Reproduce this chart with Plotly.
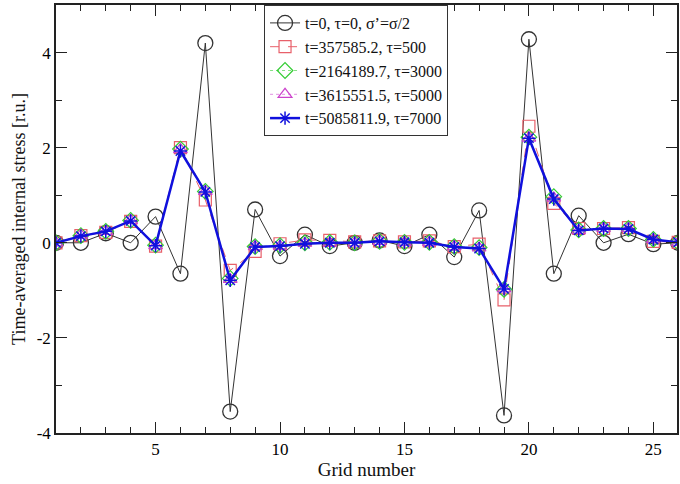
import plotly.graph_objects as go

grid = list(range(1, 27))

names = [
    "t=0, τ=0, σ’=σ/2",
    "t=357585.2, τ=500",
    "t=2164189.7, τ=3000",
    "t=3615551.5, τ=5000",
    "t=5085811.9, τ=7000",
]

stress_t0 = [0, 0, 0.2, 0, 0.55, -0.65, 4.2, -3.55, 0.7, -0.28, 0.17, -0.07, 0,
             0.05, -0.07, 0.17, -0.3, 0.68, -3.63, 4.28, -0.65, 0.57, 0, 0.18, -0.03, 0]
stress_tau500 = [0, 0.15, 0.22, 0.45, -0.07, 2.0, 0.9, -0.58, -0.18, -0.02, 0.06, 0.05, 0.02,
                 0.04, 0.02, 0.04, -0.08, -0.03, -1.2, 2.45, 0.83, 0.3, 0.3, 0.32, 0.03, 0.01]
stress_tau3000 = [0, 0.15, 0.24, 0.47, -0.05, 1.97, 1.08, -0.75, -0.08, -0.06, 0.0, 0.01, 0.0,
                  0.03, 0.01, 0.01, -0.08, -0.1, -0.98, 2.22, 0.97, 0.27, 0.3, 0.3, 0.07, 0.01]
stress_tau5000 = [0, 0.16, 0.24, 0.47, -0.06, 1.96, 1.08, -0.77, -0.08, -0.07, -0.01, 0.0, 0.0,
                  0.03, 0.01, 0.01, -0.08, -0.11, -0.97, 2.2, 0.94, 0.26, 0.3, 0.3, 0.07, 0.01]
stress_tau7000 = [0, 0.14, 0.24, 0.46, -0.06, 1.93, 1.07, -0.79, -0.09, -0.07, -0.02, 0.0, 0.0,
                  0.03, 0.01, 0.0, -0.09, -0.12, -0.97, 2.2, 0.92, 0.26, 0.3, 0.29, 0.07, 0.01]

x_ticks = [5, 10, 15, 20, 25]
x_tick_labels = ["5", "10", "15", "20", "25"]
y_ticks = [-4, -2, 0, 2, 4]
y_tick_labels = ["-4", "-2", "0", "2", "4"]

FONT = "Liberation Serif"

fig = go.Figure()

fig.add_trace(go.Scatter(
    x=grid, y=stress_t0, name=names[0], mode="lines+markers",
    line=dict(color="#333333", width=1),
    marker=dict(symbol="circle-open", size=15, color="#333333", line=dict(width=1.3)),
))
fig.add_trace(go.Scatter(
    x=grid, y=stress_tau500, name=names[1], mode="lines+markers",
    line=dict(color="#e8606a", width=1, dash="dash"),
    marker=dict(symbol="square-open", size=12, color="#e8606a", line=dict(width=1.2)),
))
fig.add_trace(go.Scatter(
    x=grid, y=stress_tau3000, name=names[2], mode="lines+markers",
    line=dict(color="#33cc33", width=0.6, dash="dot"),
    marker=dict(symbol="diamond-open", size=12, color="#33cc33", line=dict(width=1.2)),
))
fig.add_trace(go.Scatter(
    x=grid, y=stress_tau5000, name=names[3], mode="lines+markers",
    line=dict(color="#cc44cc", width=0.6, dash="dot"),
    marker=dict(symbol="triangle-up-open", size=12, color="#cc44cc", line=dict(width=1.2)),
))
fig.add_trace(go.Scatter(
    x=grid, y=stress_tau7000, name=names[4], mode="lines+markers",
    line=dict(color="#1010dd", width=2.5),
    marker=dict(symbol="asterisk-open", size=11, color="#1010dd", line=dict(width=1.5, color="#1010dd")),
))

axis_common = dict(
    showline=True, linecolor="#222222", linewidth=1.5, mirror="ticks",
    ticks="inside", ticklen=11, tickwidth=1.3, tickcolor="#222222",
    showgrid=False, zeroline=False,
    tickfont=dict(family=FONT, size=17, color="#000000"),
    minor=dict(ticks="inside", ticklen=6, tickwidth=1, tickcolor="#222222", dtick=1),
)

fig.update_layout(
    width=680, height=484,
    margin=dict(l=56, r=1, t=5, b=51),
    paper_bgcolor="white", plot_bgcolor="white",
    font=dict(family=FONT, size=16, color="#111111"),
    showlegend=True,
    legend=dict(
        x=0.335, y=1.0, xanchor="left", yanchor="top",
        bordercolor="#333333", borderwidth=1, bgcolor="white",
        font=dict(family=FONT, size=16, color="#111111"),
        tracegroupgap=0, itemsizing="trace",
    ),
    xaxis=dict(
        range=[1, 25.95], tickmode="array", tickvals=x_ticks, ticktext=x_tick_labels,
        title=dict(text="Grid number", font=dict(family=FONT, size=19), standoff=3),
        **axis_common,
    ),
    yaxis=dict(
        range=[-4, 5], tickmode="array", tickvals=y_ticks, ticktext=y_tick_labels,
        title=dict(text="Time-averaged internal stress [r.u.]", font=dict(family=FONT, size=18), standoff=6),
        **axis_common,
    ),
)

fig.write_html("out.html")
